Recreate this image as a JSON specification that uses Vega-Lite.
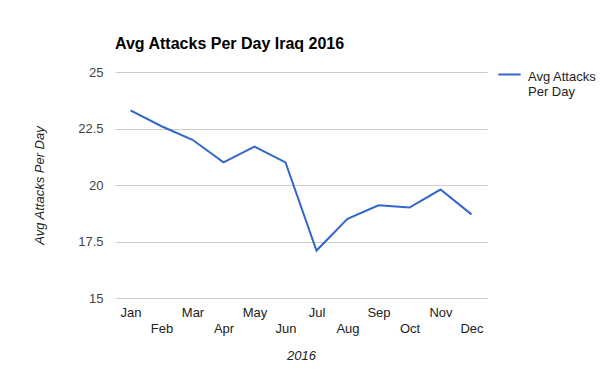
{
  "$schema": "https://vega.github.io/schema/vega-lite/v6.json",
  "autosize": "none",
  "width": 372,
  "height": 226,
  "padding": {"left": 115, "top": 72, "right": 113, "bottom": 73},
  "background": "white",
  "title": {
    "text": "Avg Attacks Per Day Iraq 2016",
    "anchor": "start",
    "frame": "group",
    "font": "Liberation Sans",
    "fontSize": 16,
    "fontWeight": "bold",
    "color": "#000000",
    "baseline": "alphabetic",
    "offset": -3
  },
  "data": {
    "values": [
      {"month": "Jan", "value": 23.3},
      {"month": "Feb", "value": 22.6},
      {"month": "Mar", "value": 22.0},
      {"month": "Apr", "value": 21.0},
      {"month": "May", "value": 21.7},
      {"month": "Jun", "value": 21.0},
      {"month": "Jul", "value": 17.1},
      {"month": "Aug", "value": 18.5},
      {"month": "Sep", "value": 19.1},
      {"month": "Oct", "value": 19.0},
      {"month": "Nov", "value": 19.8},
      {"month": "Dec", "value": 18.7}
    ]
  },
  "config": {
    "view": {"stroke": null},
    "font": "Liberation Sans"
  },
  "mark": {"type": "line", "strokeWidth": 2},
  "encoding": {
    "x": {
      "field": "month",
      "type": "ordinal",
      "sort": null,
      "scale": {"type": "point", "padding": 0.5},
      "axis": {
        "title": "2016",
        "titleFont": "Liberation Sans",
        "titleFontSize": 13,
        "titleFontStyle": "italic",
        "titleFontWeight": "normal",
        "titleColor": "#222222",
        "titlePadding": 14,
        "labelAngle": 0,
        "labelFont": "Liberation Sans",
        "labelFontSize": 13,
        "labelColor": "#222222",
        "labelPadding": {"condition": {"test": "indexof(['Feb','Apr','Jun','Aug','Oct','Dec'], datum.value) >= 0", "value": 24}, "value": 8},
        "labelBaseline": "top",
        "domain": false,
        "ticks": false,
        "grid": false
      }
    },
    "y": {
      "field": "value",
      "type": "quantitative",
      "scale": {"domain": [15, 25], "nice": false, "zero": false},
      "axis": {
        "title": "Avg Attacks Per Day",
        "titleFont": "Liberation Sans",
        "titleFontSize": 13,
        "titleFontStyle": "italic",
        "titleFontWeight": "normal",
        "titleColor": "#222222",
        "titlePadding": 31,
        "values": [15, 17.5, 20, 22.5, 25],
        "labelExpr": "'' + datum.value",
        "labelFont": "Liberation Sans",
        "labelFontSize": 13,
        "labelColor": "#444444",
        "labelPadding": 12,
        "domain": false,
        "ticks": false,
        "grid": true,
        "gridColor": "#cccccc",
        "gridWidth": 1
      }
    },
    "color": {
      "datum": "Avg Attacks Per Day",
      "type": "nominal",
      "scale": {"range": ["#3366cc"]},
      "legend": {
        "title": null,
        "orient": "none",
        "legendX": 382,
        "legendY": -10,
        "symbolType": "stroke",
        "symbolStrokeWidth": 2,
        "symbolSize": 500,
        "labelExpr": "['Avg Attacks', 'Per Day']",
        "labelFont": "Liberation Sans",
        "labelFontSize": 13,
        "labelColor": "#222222",
        "labelLineHeight": 16,
        "labelBaseline": "top",
        "labelOffset": 6,
        "encode": {"labels": {"update": {"dy": {"value": -4}}}}
      }
    }
  }
}
